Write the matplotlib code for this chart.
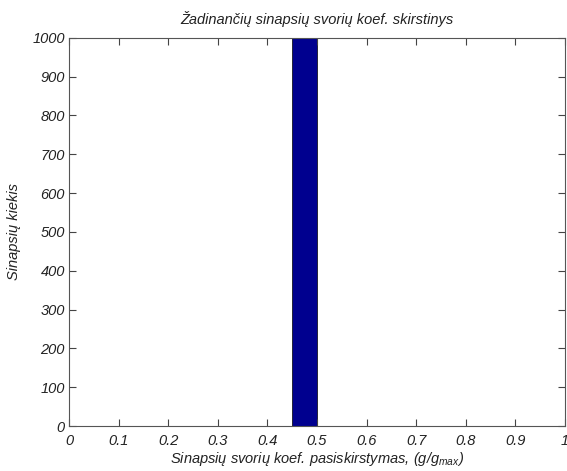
# histogram of excitatory synapse weight coefficients (MATLAB-like look)

import numpy as np
import matplotlib
matplotlib.use('Agg')
import matplotlib.pyplot as plt

# bin edges and counts (20 bins over 0..1, everything in one bin)
bin_edges = [0.0, 0.05, 0.1, 0.15, 0.2, 0.25, 0.3, 0.35, 0.4, 0.45, 0.5,
             0.55, 0.6, 0.65, 0.7, 0.75, 0.8, 0.85, 0.9, 0.95, 1.0]
counts = [0, 0, 0, 0, 0, 0, 0, 0, 0, 1000, 0, 0, 0, 0, 0, 0, 0, 0, 0, 0]

x_ticks = [0, 0.1, 0.2, 0.3, 0.4, 0.5, 0.6, 0.7, 0.8, 0.9, 1]
x_tick_labels = ['0', '0.1', '0.2', '0.3', '0.4', '0.5', '0.6', '0.7', '0.8', '0.9', '1']
y_ticks = [0, 100, 200, 300, 400, 500, 600, 700, 800, 900, 1000]

plt.rcParams['font.family'] = ['Liberation Sans', 'DejaVu Sans']
plt.rcParams['font.style'] = 'italic'
plt.rcParams['mathtext.fontset'] = 'custom'
plt.rcParams['mathtext.it'] = 'Liberation Sans:italic'
plt.rcParams['mathtext.rm'] = 'Liberation Sans:italic'
plt.rcParams['mathtext.default'] = 'it'

fig = plt.figure(figsize=(5.67, 4.71), dpi=100)
ax = fig.add_axes([0.1217, 0.0955, 0.8748, 0.8245])

left = np.array(bin_edges[:-1])
widths = np.diff(bin_edges)
nz = np.array(counts) > 0
ax.bar(left[nz], np.array(counts)[nz], width=widths[nz], align='edge',
       color='#00008f', edgecolor='black', linewidth=0.5)

ax.set_xlim(0, 1)
ax.set_ylim(0, 1000)
ax.set_xticks(x_ticks)
ax.set_xticklabels(x_tick_labels)
ax.set_yticks(y_ticks)

ax.tick_params(direction='in', length=5, width=0.8, top=True, right=True,
               labelsize=10.5, colors='#444444', labelcolor='#222222')
ax.tick_params(axis='x', pad=6)
ax.tick_params(axis='y', pad=3)
for s in ax.spines.values():
    s.set_color('#555555')
    s.set_linewidth(0.8)

ax.set_title('Žadinančių sinapsių svorių koef. skirstinys', fontsize=10.5,
             color='#222222', pad=10)
ax.set_xlabel('Sinapsių svorių koef. pasiskirstymas, (g/g$_{max}$)',
              fontsize=10.5, color='#222222', labelpad=1)
ax.set_ylabel('Sinapsių kiekis', fontsize=10.5, color='#222222', labelpad=8)

plt.savefig('out.png', dpi=100)
